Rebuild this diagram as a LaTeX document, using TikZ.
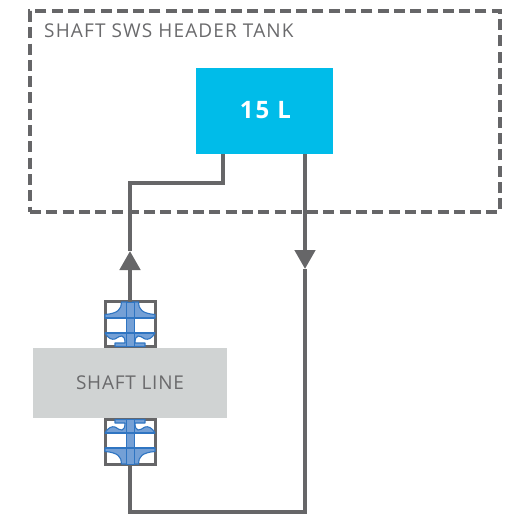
\documentclass[tikz,border=0pt]{standalone}
\usepackage{fontspec}
\setmainfont{Open Sans}
\usetikzlibrary{arrows.meta,positioning}
\definecolor{linegray}{HTML}{666668}
\definecolor{tankblue}{HTML}{00BCE9}
\definecolor{shaftgray}{HTML}{D0D3D3}
\definecolor{flangefill}{HTML}{74A0D6}
\definecolor{flangeline}{HTML}{2F75C2}
\definecolor{labelgray}{HTML}{6A6A6C}
\tikzset{
  conn/.style={draw=linegray,line width=4.6pt,line join=miter},
  arrowconn/.style={conn,-{Triangle[width=20pt,length=19pt]}},
  tankframe/.style={draw=linegray,line width=3.05pt,dash pattern=on 11pt off 5.3pt},
  valvebox/.style={draw=linegray,line width=3pt,fill=white,minimum width=50pt,minimum height=45pt,inner sep=0pt,outer sep=0pt},
  labeltext/.style={text=labelgray,font=\fontsize{19pt}{21pt}\selectfont\addfontfeature{LetterSpace=6},inner sep=0pt},
  shafttext/.style={text=labelgray,font=\fontsize{19pt}{21pt}\selectfont\addfontfeature{LetterSpace=4},inner sep=0pt},
  blueshape/.style={fill=flangefill,draw=flangeline,line width=1.1pt,line join=round},
  blueline/.style={draw=flangeline,line width=1.2pt},
  valve/.pic={
    % origin: box centre; drawn for the upper fitting
    \path[blueshape] (-8.5,-22) .. controls (-8.3,-15) and (-12,-10.5) .. (-25,-9.5)
      -- (-25,-6) -- (25,-6) -- (25,-9.5) .. controls (12,-10.5) and (8.3,-15) .. (8.5,-22) -- cycle;
    \path[blueshape] (-25,9) .. controls (-22,14.5) and (-18,16) .. (-15,15)
      .. controls (-12,13.5) and (-10,11.5) .. (-8,12)
      .. controls (-6,12.5) and (-5,15) .. (-5,19)
      -- (-15,19) -- (-15,22.5) -- (15,22.5) -- (15,19) -- (5,19)
      .. controls (5,15) and (6,12.5) .. (8,12)
      .. controls (10,11.5) and (12,13.5) .. (15,15)
      .. controls (18,16) and (22,14.5) .. (25,9) -- cycle;
    \path[fill=flangefill,draw=flangeline,line width=0.9pt] (-4,-22) rectangle (4,22.5);
    \draw[blueline] (-25,-6) -- (25,-6);
    \draw[blueline] (-25,9) -- (25,9);
  }
}
\begin{document}
\begin{tikzpicture}[x=1pt,y=-1pt]
\useasboundingbox (0,0) rectangle (512,516);
\node[tankframe,minimum width=470pt,minimum height=201pt,inner sep=0pt,outer sep=0pt] (tank) at (265,111.5) {};
\node[labeltext,anchor=west] (tanklabel) at (44,30.5) {SHAFT SWS HEADER TANK};
\node[fill=tankblue,minimum width=137pt,minimum height=86pt,inner sep=0pt,outer sep=0pt] (tankvol) at (264.5,111) {};
\node[inner sep=0pt,text=white,font=\fontsize{24pt}{26pt}\selectfont\bfseries\addfontfeature{LetterSpace=8}] (tankvollabel) at (265.5,110) {15 L};
\node[fill=shaftgray,minimum width=194pt,minimum height=70pt,inner sep=0pt,outer sep=0pt] (shaft) at (130,383) {};
\node[shafttext] (shaftlabel) at (130,383) {SHAFT LINE};

\node[valvebox] (valveT) at (130,324) {};
\pic at (valveT.center) {valve};
\node[valvebox] (valveB) at (130,442) {};
\pic[transform shape,yscale=-1] at (valveB.center) {valve};

\coordinate (upTip) at (130,251);
\coordinate (upCorner) at (130,183);
\coordinate (tankIn) at (223,154);
\coordinate (tankOut) at (305,154);
\coordinate (downTip) at (305,269);
\coordinate (botR) at (305,512);
\coordinate (botL) at (130,512);

\draw[arrowconn] (valveT.north) -- (upTip);
\draw[conn] (upTip) -- (upCorner) -| (tankIn);
\draw[arrowconn] (tankOut) -- (downTip);
\draw[conn] (downTip) -- (botR) -- (botL) -- (valveB.south);
\end{tikzpicture}
\end{document}
